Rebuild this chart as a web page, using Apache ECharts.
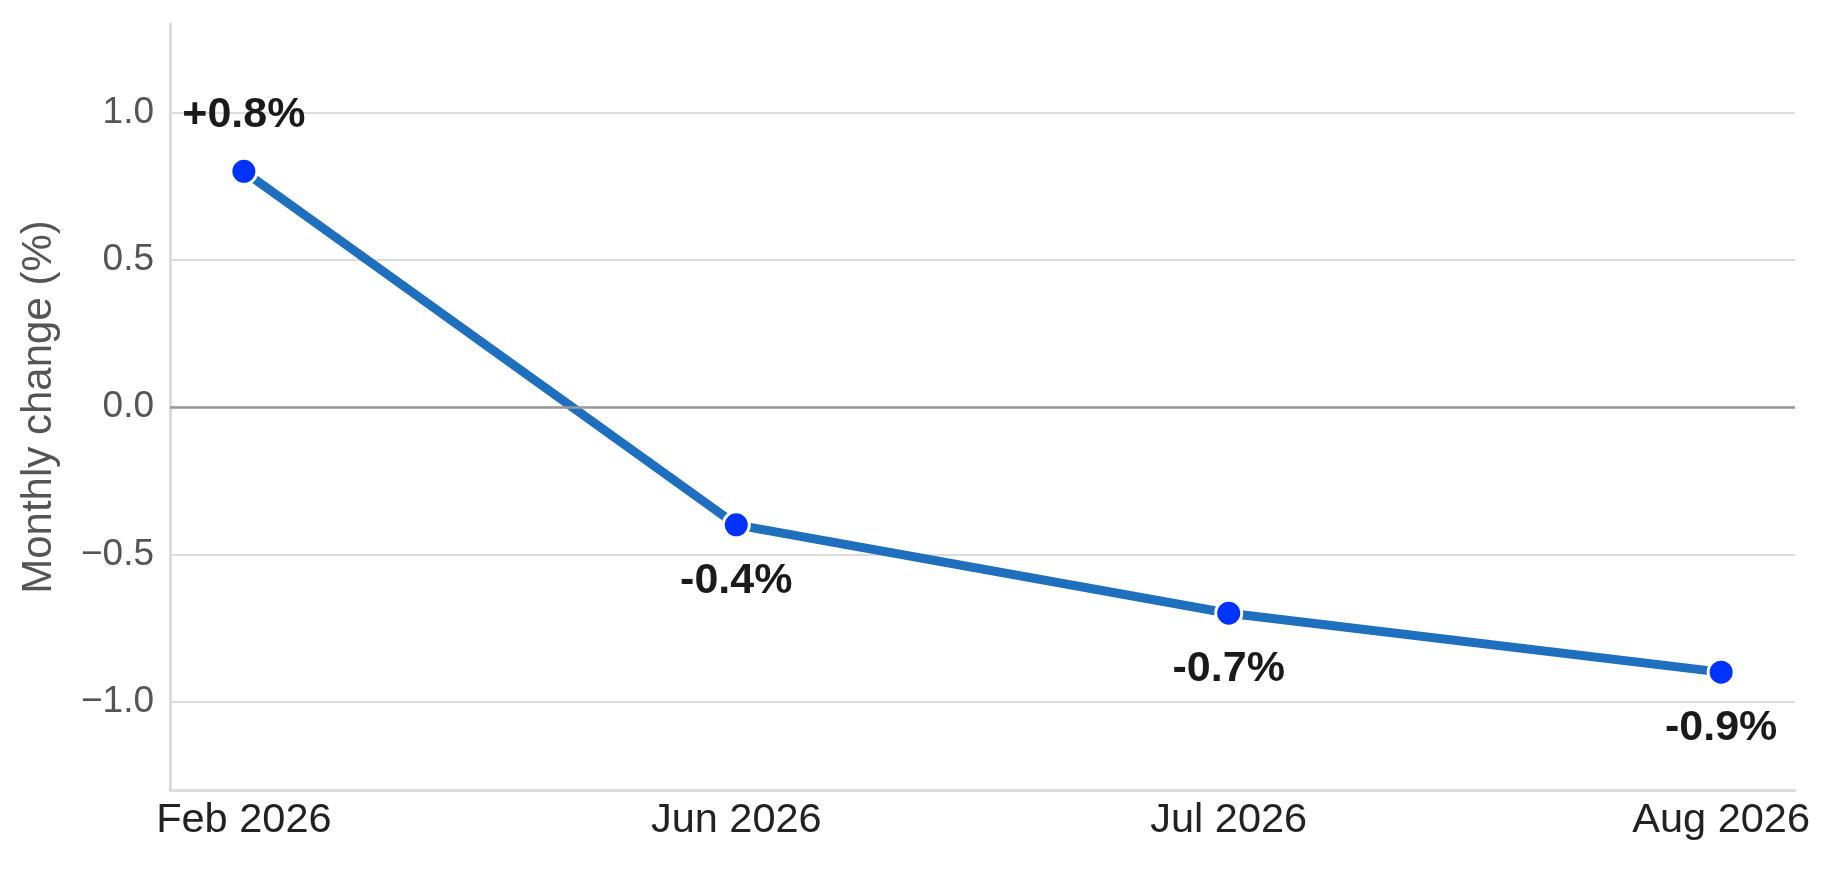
<!DOCTYPE html>
<html>
<head>
<meta charset="utf-8">
<script src="https://cdn.jsdelivr.net/npm/echarts@6/dist/echarts.min.js"></script>
<style>
  html, body { margin: 0; padding: 0; background: #fff; }
  #main { width: 1843px; height: 870px; }
</style>
</head>
<body>
<div id="main"></div>
<script>
// data
var months = ['Feb 2026', 'Jun 2026', 'Jul 2026', 'Aug 2026'];
var changes = [0.8, -0.4, -0.7, -0.9];
var yTicks = [-1.0, -0.5, 0.0, 0.5, 1.0];

var chart = echarts.init(document.getElementById('main'));
var font = 'Liberation Sans, Arial, sans-serif';

function fmtTick(v) {
  var s = Math.abs(v).toFixed(1);
  return v < 0 ? '\u2212' + s : s;
}
function fmtPct(v) {
  return (v > 0 ? '+' : '') + v.toFixed(1) + '%';
}

var points = changes.map(function (v, i) {
  return {
    value: [i, v],
    label: { position: v >= 0 ? 'top' : 'bottom', distance: 20 }
  };
});

var option = {
  animation: false,
  backgroundColor: '#fff',
  grid: { left: 170, right: 48, top: 24, bottom: 80 },
  xAxis: {
    type: 'value',
    min: -0.15,
    max: 3.15,
    axisLine: { show: true, onZero: false, lineStyle: { color: '#dcdcdc', width: 3 } },
    axisTick: { show: false, customValues: [0, 1, 2, 3] },
    splitLine: { show: false },
    axisLabel: {
      customValues: [0, 1, 2, 3],
      formatter: function (v) { return months[Math.round(v)]; },
      color: '#222',
      fontSize: 41.5,
      fontFamily: font,
      margin: 10
    }
  },
  yAxis: {
    type: 'value',
    min: -1.3,
    max: 1.3,
    name: 'Monthly change (%)',
    nameLocation: 'middle',
    nameGap: 110,
    nameTextStyle: { color: '#555', fontSize: 42, fontFamily: font },
    axisLine: { show: true, onZero: false, lineStyle: { color: '#dcdcdc', width: 3 } },
    axisTick: { show: false, customValues: yTicks },
    splitLine: { show: true, lineStyle: { color: '#dcdcdc', width: 2 } },
    axisLabel: {
      customValues: yTicks,
      formatter: fmtTick,
      color: '#555',
      fontSize: 37,
      fontFamily: font,
      margin: 16,
      padding: [8, 0, 0, 0]
    }
  },
  series: [{
    type: 'line',
    data: points,
    symbol: 'circle',
    symbolSize: 26,
    lineStyle: { color: '#1f6fbf', width: 9 },
    itemStyle: { color: '#0033ff', borderColor: '#fff', borderWidth: 3 },
    label: {
      show: true,
      formatter: function (p) { return fmtPct(p.value[1]); },
      color: '#1a1a1a',
      fontSize: 43,
      fontWeight: 'bold',
      fontFamily: font
    },
    markLine: {
      silent: true,
      symbol: 'none',
      label: { show: false },
      lineStyle: { color: '#999', width: 2.5, type: 'solid' },
      data: [{ yAxis: 0 }]
    },
    z: 3
  }]
};

chart.setOption(option);
</script>
</body>
</html>
